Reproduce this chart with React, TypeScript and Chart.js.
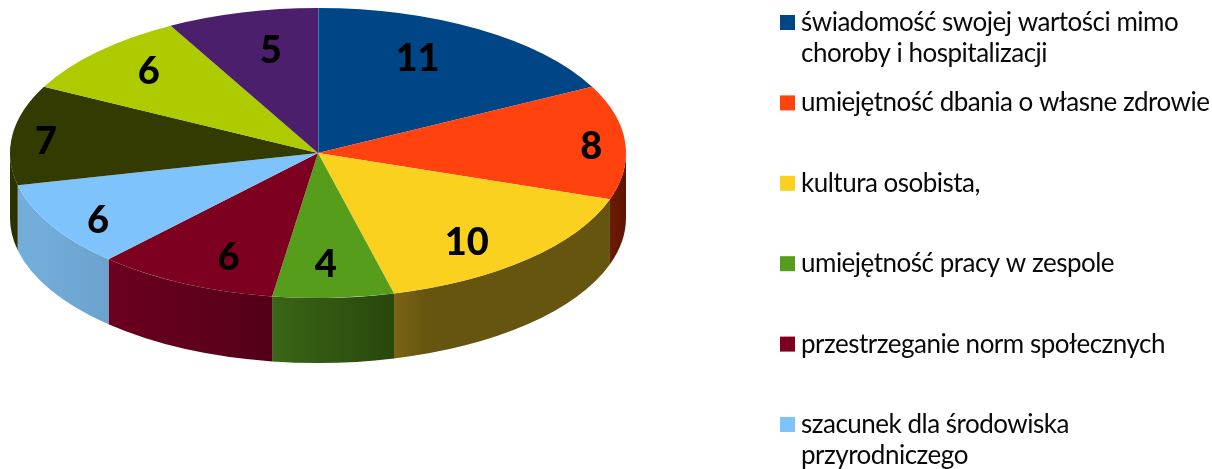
import React, { useEffect, useRef } from "react";
import { Chart, registerables } from "chart.js";

Chart.register(...registerables);

const categories = [
  "świadomość swojej wartości mimo\nchoroby i hospitalizacji",
  "umiejętność dbania o własne zdrowie",
  "kultura osobista,",
  "umiejętność pracy w zespole",
  "przestrzeganie norm społecznych",
  "szacunek dla środowiska\nprzyrodniczego",
  "",
  "",
  "",
];
const values = [11, 8, 10, 4, 6, 6, 7, 6, 5];
const topColors = ["#004586", "#ff420e", "#fbd11f", "#579d1c", "#7e0021", "#7fc3fc", "#333b00", "#aecb00", "#4b1f6c"];
const wallLeft = ["#00284e", "#6b1a02", "#7d6416", "#3a6516", "#6b0020", "#74afdc", "#2b3200", "#5a6a00", "#2a1040"];
const wallRight = ["#00284e", "#5f1500", "#65550f", "#28480c", "#540018", "#6ba3cd", "#2b3200", "#5a6a00", "#2a1040"];
const labelReachX = [0.62, 0.89, 0.71, 0.5, 0.67, 0.825, 0.89, 0.767, 0.62];
const labelReachY = [0.776, 0.8, 0.83, 0.76, 0.79, 0.9, 0.73, 0.82, 0.74];

const RX = 308;
const RY = 145;
const DEPTH = 65;
const FONT = "Lato, 'Open Sans', sans-serif";

const pie3d = {
  id: "pie3d",
  beforeDatasetsDraw(chart: any) {
    const ctx = chart.ctx;
    const arcs = chart.getDatasetMeta(0).data;
    const cx = arcs[0].x;
    const cy = arcs[0].y;
    const r = arcs[0].outerRadius;
    arcs.forEach((arc: any, i: number) => {
      // Chart.js angles run from -PI/2 clockwise; only the front half shows a wall.
      const a0 = Math.max(arc.startAngle, 0);
      const a1 = Math.min(arc.endAngle, Math.PI);
      if (a1 <= a0) return;
      const x0 = cx + RX * Math.cos(a0);
      const x1 = cx + RX * Math.cos(a1);
      const g = ctx.createLinearGradient(Math.min(x0, x1), 0, Math.max(x0, x1), 0);
      g.addColorStop(0, wallLeft[i]);
      g.addColorStop(i === 2 ? 0.15 : 1, wallRight[i]);
      g.addColorStop(1, wallRight[i]);
      ctx.fillStyle = g;
      ctx.beginPath();
      ctx.ellipse(cx, cy, RX, RY, 0, a0, a1);
      ctx.ellipse(cx, cy + DEPTH, RX, RY, 0, a1, a0, true);
      ctx.closePath();
      ctx.fill();
    });
    ctx.save();
    ctx.translate(cx, cy);
    ctx.scale(RX / r, RY / r);
    ctx.translate(-cx, -cy);
  },
  afterDatasetsDraw(chart: any) {
    const ctx = chart.ctx;
    ctx.restore();
    const arcs = chart.getDatasetMeta(0).data;
    const data = chart.data.datasets[0].data;

    // thin light seam where the first slice starts
    const first = arcs[0];
    ctx.save();
    ctx.strokeStyle = "rgba(130,165,200,0.55)";
    ctx.lineWidth = 1;
    ctx.beginPath();
    ctx.moveTo(first.x + 0.5, first.y);
    ctx.lineTo(first.x + 0.5, first.y - RY);
    ctx.stroke();
    ctx.restore();

    // value labels
    ctx.save();
    ctx.fillStyle = "#000";
    ctx.font = `900 38px ${FONT}`;
    ctx.textAlign = "center";
    ctx.textBaseline = "middle";
    arcs.forEach((arc: any, i: number) => {
      const mid = (arc.startAngle + arc.endAngle) / 2;
      const x = arc.x + RX * labelReachX[i] * Math.cos(mid);
      const y = arc.y + RY * labelReachY[i] * Math.sin(mid) + 2;
      ctx.fillText(String(data[i]), x, y);
    });
    ctx.restore();

    // legend
    ctx.save();
    ctx.font = `26px ${FONT}`;
    (ctx as any).letterSpacing = "-0.5px";
    ctx.textAlign = "left";
    ctx.textBaseline = "alphabetic";
    chart.data.labels.forEach((label: string, i: number) => {
      if (!label) return;
      const top = 15 + i * 80.4;
      ctx.fillStyle = topColors[i];
      ctx.fillRect(780, top, 15, 15);
      ctx.fillStyle = "#0a0a0a";
      label.split("\n").forEach((line: string, j: number) => {
        ctx.fillText(line, 801, top + 16 + j * 31);
      });
    });
    ctx.restore();
  },
};

export default function App() {
  const ref = useRef<HTMLCanvasElement | null>(null);
  useEffect(() => {
    if (!ref.current) return;
    const chart = new Chart(ref.current, {
      type: "pie",
      data: {
        labels: categories,
        datasets: [{ data: values, backgroundColor: topColors, borderWidth: 0, clip: false } as any],
      },
      options: {
        animation: false,
        responsive: false,
        maintainAspectRatio: false,
        layout: { padding: { left: 165, right: 741, top: 0, bottom: 163 } },
        plugins: { legend: { display: false }, tooltip: { enabled: false } },
      },
      plugins: [pie3d],
    });
    return () => chart.destroy();
  }, []);
  return (
    <div style={{ position: "fixed", left: 0, top: 0, width: 1212, height: 469, background: "#fff" }}>
      <canvas ref={ref} width={1212} height={469} style={{ display: "block" }} />
    </div>
  );
}
